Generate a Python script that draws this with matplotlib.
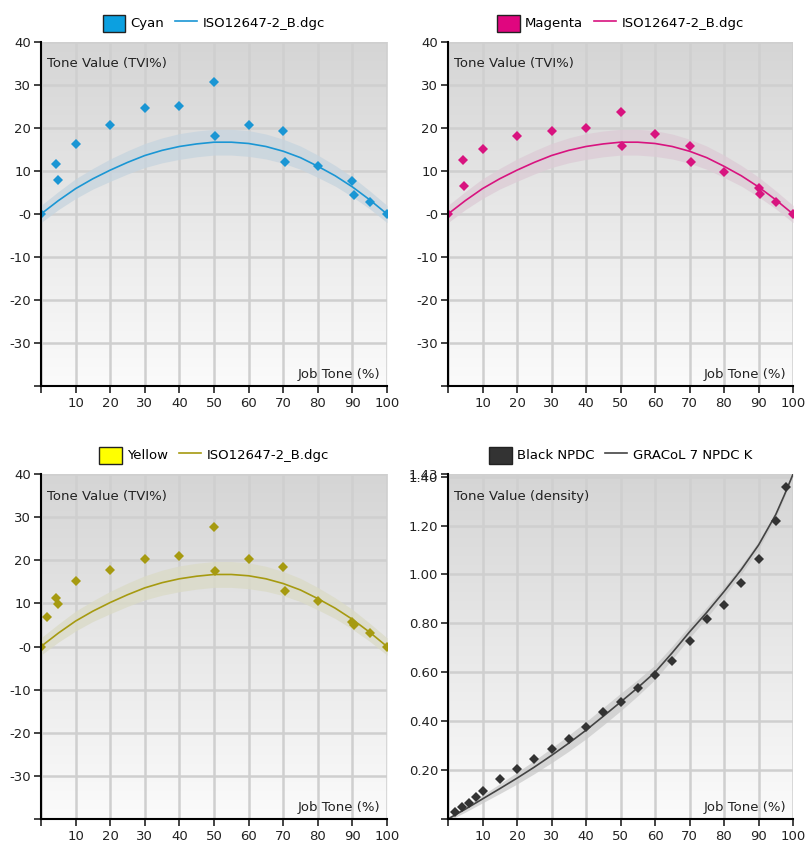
import numpy as np
import matplotlib
matplotlib.use("Agg")
import matplotlib.pyplot as plt
from matplotlib.colors import LinearSegmentedColormap
from matplotlib.patches import Patch
from matplotlib.lines import Line2D

# reference curve ISO12647-2_B (TVI %) and its tolerance band
ref_tone = [0, 5, 10, 15, 20, 25, 30, 35, 40, 45, 50, 55, 60, 65, 70, 75, 80, 85, 90, 95, 100]
ref_tvi = [0, 3.1, 5.9, 8.2, 10.2, 12.0, 13.6, 14.8, 15.7, 16.3, 16.7, 16.7, 16.4, 15.7, 14.6, 13.1,
           11.1, 8.9, 6.3, 3.3, 0]
ref_tol = [2.0, 2.1, 2.3, 2.4, 2.6, 2.7, 2.8, 2.9, 3.0, 3.0, 3.0, 3.0, 3.0, 2.9, 2.8, 2.7, 2.6, 2.4,
           2.3, 2.1, 2.0]

# measured TVI
cyan_x = [0, 4.4, 4.9, 10, 20, 30, 40, 50, 50.3, 60, 70, 70.4, 80, 90, 90.5, 95, 100]
cyan_y = [0, 11.7, 7.9, 16.2, 20.6, 24.6, 25.2, 30.7, 18.2, 20.8, 19.4, 12.1, 11.1, 7.6, 4.4, 2.7, 0]
magenta_x = [0, 4.4, 4.7, 10, 20, 30, 40, 50, 50.4, 60, 70, 70.3, 80, 90, 90.4, 95, 100]
magenta_y = [0, 12.6, 6.6, 15.0, 18.1, 19.2, 19.9, 23.7, 15.9, 18.5, 15.8, 12.0, 9.7, 6.0, 4.6, 2.8, 0]
yellow_x = [0, 1.7, 4.4, 4.9, 10, 20, 30, 40, 50, 50.3, 60, 70, 70.4, 80, 90, 90.4, 95, 100]
yellow_y = [0, 6.8, 11.3, 9.8, 15.2, 17.7, 20.3, 21.1, 27.6, 17.5, 20.3, 18.4, 12.8, 10.6, 5.6, 5.1, 3.2, 0]

# black: density vs GRACoL 7 NPDC K
black_x = [2, 4, 6, 8, 10, 15, 20, 25, 30, 35, 40, 45, 50, 55, 60, 65, 70, 75, 80, 85, 90, 95, 98]
black_y = [0.027, 0.049, 0.066, 0.090, 0.114, 0.164, 0.204, 0.247, 0.285, 0.326, 0.378, 0.436, 0.477,
           0.536, 0.590, 0.645, 0.729, 0.819, 0.876, 0.966, 1.062, 1.220, 1.358]
npdc_tone = [0, 5, 10, 15, 20, 25, 30, 35, 40, 45, 50, 55, 60, 65, 70, 75, 80, 85, 90, 95, 97.5, 100]
npdc_d = [0, 0.040, 0.082, 0.124, 0.167, 0.212, 0.260, 0.310, 0.363, 0.420, 0.478, 0.537, 0.600,
          0.680, 0.765, 0.845, 0.930, 1.020, 1.120, 1.245, 1.325, 1.410]
npdc_tol = [0.008, 0.012, 0.016, 0.02, 0.024, 0.027, 0.03, 0.033, 0.035, 0.036, 0.036, 0.033, 0.03,
            0.027, 0.025, 0.022, 0.02, 0.018, 0.016, 0.013, 0.011, 0.008]

W, H = 805, 846
fig = plt.figure(figsize=(W / 100, H / 100), dpi=100)
plt.rcParams['font.family'] = 'DejaVu Sans'

bg = LinearSegmentedColormap.from_list('bg', ['#d5d5d5', '#fbfbfb'])


def make_axes(x0, x1, y0, y1):
    ax = fig.add_axes([x0 / W, 1 - y1 / H, (x1 - x0) / W, (y1 - y0) / H])
    return ax


def style(ax, ylim, yticks, ylabels, ylabel):
    ax.set_xlim(0, 100)
    ax.set_ylim(*ylim)
    ax.imshow(np.linspace(0, 1, 256).reshape(-1, 1), cmap=bg, extent=[0, 100, ylim[0], ylim[1]],
              aspect='auto', zorder=0, origin='upper')
    ax.set_xticks(range(0, 101, 10))
    ax.set_xticklabels([''] + [str(v) for v in range(10, 101, 10)])
    ax.set_yticks(yticks)
    ax.set_yticklabels(ylabels)
    ax.grid(True, color='#cfcfcf', lw=1.8, zorder=1)
    ax.set_axisbelow(True)
    for s in ['top', 'right']:
        ax.spines[s].set_visible(False)
    for s in ['left', 'bottom']:
        ax.spines[s].set_linewidth(1.5)
        ax.spines[s].set_zorder(5)
    ax.tick_params(axis='both', labelsize=9.5, length=5, width=1.2, colors='#222222', pad=2)
    ax.tick_params(axis='x', pad=3)
    ax.text(0.017, 0.955, ylabel, transform=ax.transAxes, fontsize=9.5, color='#222222',
            ha='left', va='top', zorder=6)
    ax.text(0.98, 0.015, 'Job Tone (%)', transform=ax.transAxes, fontsize=9.5, color='#222222',
            ha='right', va='bottom', zorder=6)


def legend(ax, patch_color, name, line_color, ref_name):
    handles = [Patch(facecolor=patch_color, edgecolor='#222222', lw=1.0),
               Line2D([0], [0], color=line_color, lw=1.2)]
    ax.legend(handles, [name, ref_name], loc='lower center', bbox_to_anchor=(0.5, 1.015), ncol=2,
              frameon=False, fontsize=9.5, handlelength=1.7, handleheight=1.6, columnspacing=0.8,
              handletextpad=0.4, borderaxespad=0)


tvi_ticks = [40, 30, 20, 10, 0, -10, -20, -30, -40]
tvi_labels = ['40', '30', '20', '10', '-0', '-10', '-20', '-30', '']

panels = [
    ((41, 387, 42, 386), cyan_x, cyan_y, '#1a96d4', '#c6d4de', '#0ca0e0', 'Cyan'),
    ((448, 793, 42, 386), magenta_x, magenta_y, '#d8137f', '#dccbd5', '#e0067f', 'Magenta'),
    ((41, 387, 474, 819), yellow_x, yellow_y, '#a69a10', '#dadac6', '#ffff00', 'Yellow'),
]

for box, xs, ys, col, band, patch, name in panels:
    ax = make_axes(*box)
    style(ax, (-40, 40), tvi_ticks, tvi_labels, 'Tone Value (TVI%)')
    lo = [v - t for v, t in zip(ref_tvi, ref_tol)]
    hi = [v + t for v, t in zip(ref_tvi, ref_tol)]
    ax.fill_between(ref_tone, lo, hi, color=band, alpha=0.75, lw=0, zorder=2)
    ax.plot(ref_tone, ref_tvi, color=col, lw=1.2, zorder=3)
    ax.plot(xs, ys, 'D', color=col, ms=4.8, mew=0, zorder=4)
    legend(ax, patch, name, col, 'ISO12647-2_B.dgc')

# black panel (axis top sits just above 1.40, labelled 1.43 as in the source)
ax = make_axes(448, 793, 474, 819)
k_ticks = [0, 0.2, 0.4, 0.6, 0.8, 1.0, 1.2, 1.4, 1.411]
k_labels = ['', '0.20', '0.40', '0.60', '0.80', '1.00', '1.20', '1.40', '1.43']
style(ax, (0, 1.411), k_ticks, k_labels, 'Tone Value (density)')
lo = [v - t for v, t in zip(npdc_d, npdc_tol)]
hi = [v + t for v, t in zip(npdc_d, npdc_tol)]
ax.fill_between(npdc_tone, lo, hi, color='#c8c8c8', alpha=0.7, lw=0, zorder=2)
ax.plot(npdc_tone, npdc_d, color='#444444', lw=1.2, zorder=3)
ax.plot(black_x, black_y, 'D', color='#333333', ms=4.8, mew=0, zorder=4)
legend(ax, '#333333', 'Black NPDC', '#444444', 'GRACoL 7 NPDC K')

fig.savefig('out.png', dpi=100)
